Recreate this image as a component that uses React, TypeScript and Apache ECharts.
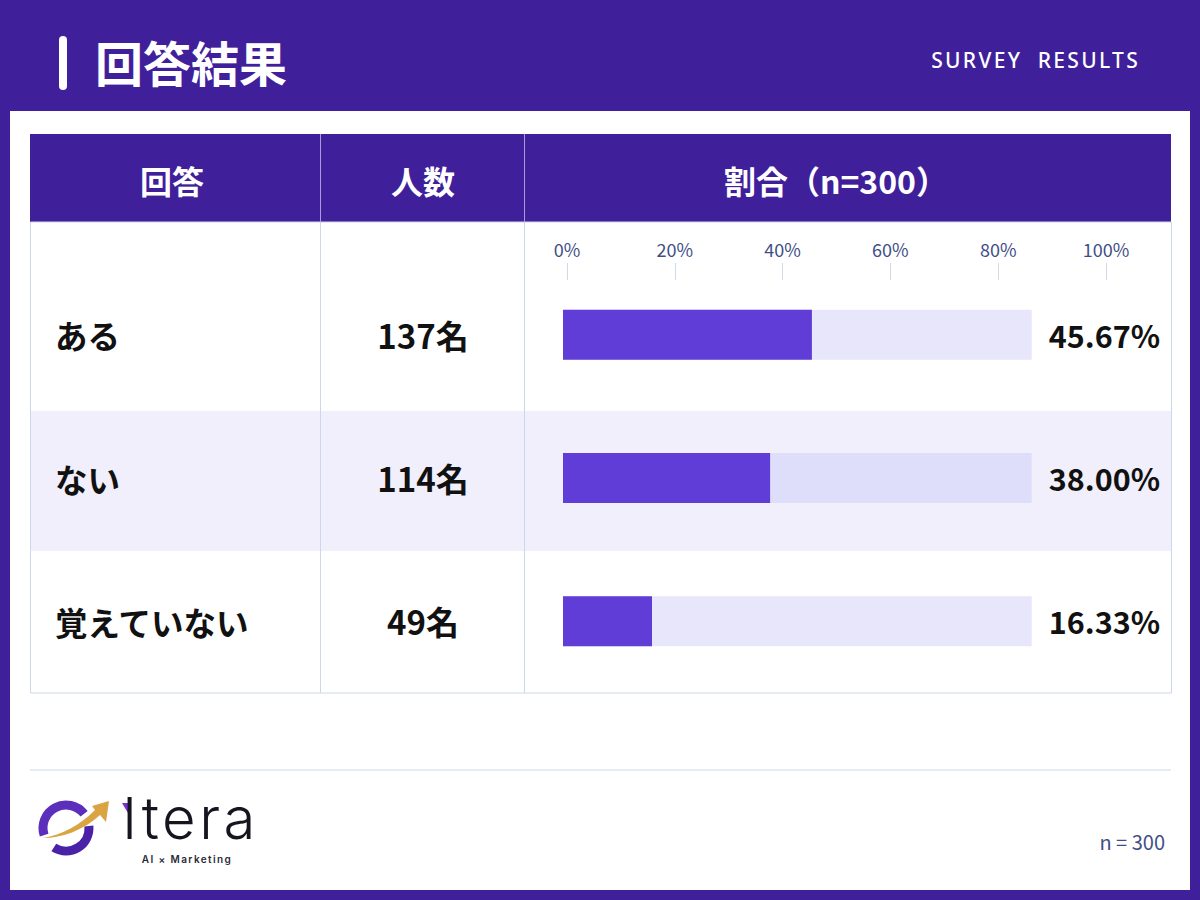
import { useEffect, useRef } from 'react';
import * as echarts from 'echarts';

// values
const answers = ['ある', 'ない', '覚えていない'];
const counts = ['137名', '114名', '49名'];
const percents = [45.67, 38.0, 16.33];
const trackEnds = [86, 86, 86];
const headers = ['回答', '人数', '割合（n=300）'];

const JP = '"Noto Sans CJK JP", "Noto Sans", sans-serif';
const PURPLE = '#3f209a';
const LINE = '#cdd6ea';
const trackColors = ['#e8e6fa', '#dedefa', '#e8e6fa'];

// zrender has no letter spacing, so it is set on the svg texts afterwards
const spacedTexts: Record<string, string> = {
    'SURVEY  RESULTS': '2.3px',
    Itera: '3.5px',
    'AI × Marketing': '1.4px',
};

echarts.graphic.registerShape(
    'logoArrow',
    echarts.graphic.extendPath(
        'M43 838 C62 835 80 825 95 810 L92 806 L109 801 L106 822 L100 815 C84 830 62 838 43 838 Z',
        {},
    ),
);

const deg = (d: number) => (d * Math.PI) / 180;

const headerText = (text: string, x: number) => ({
    type: 'text',
    style: { text, x, y: 180, fill: '#fff', font: `700 32px ${JP}`, align: 'center', verticalAlign: 'middle' },
});

const vLine = (x: number, y1: number, y2: number, stroke: string) => ({
    type: 'line',
    shape: { x1: x, y1, x2: x, y2 },
    style: { stroke, lineWidth: 1 },
});

const App = () => {
    const chartRef = useRef<HTMLDivElement>(null);

    useEffect(() => {
        document.body.style.margin = '0';
        if (chartRef.current) {
            const chart = echarts.init(chartRef.current, undefined, { renderer: 'svg' });

            chart.setOption({
                animation: false,
                backgroundColor: PURPLE,
                graphic: [
                    // page panel and table frame
                    { type: 'rect', shape: { x: 10, y: 111, width: 1180, height: 779 }, style: { fill: '#fff' } },
                    { type: 'rect', shape: { x: 30, y: 134, width: 1141, height: 88 }, style: { fill: PURPLE } },
                    { type: 'rect', shape: { x: 30, y: 411, width: 1141, height: 140 }, style: { fill: '#f1effb' } },
                    { type: 'rect', shape: { x: 30.5, y: 222, width: 1141, height: 471 }, style: { fill: 'none', stroke: LINE, lineWidth: 1 } },
                    vLine(320.5, 222, 693, LINE),
                    vLine(524.5, 222, 693, LINE),
                    vLine(320.5, 134, 222, '#a99ade'),
                    vLine(524.5, 134, 222, '#a99ade'),
                    { type: 'line', shape: { x1: 30, y1: 770, x2: 1171, y2: 770 }, style: { stroke: LINE, lineWidth: 1 } },

                    // title bar
                    { type: 'rect', shape: { x: 59, y: 36, width: 8, height: 54, r: 4 }, style: { fill: '#fff' } },
                    { type: 'text', style: { text: '回答結果', x: 95, y: 61, fill: '#fff', font: `700 48px ${JP}`, verticalAlign: 'middle' } },
                    { type: 'text', style: { text: 'SURVEY  RESULTS', x: 1140, y: 60, fill: '#fff', font: '500 21px "Noto Sans", sans-serif', align: 'right', verticalAlign: 'middle' } },

                    headerText(headers[0], 172),
                    headerText(headers[1], 423),
                    headerText(headers[2], 836),

                    // footer
                    { type: 'text', style: { text: 'n = 300', x: 1165, y: 841, fill: '#3f4f86', font: `400 20px ${JP}`, align: 'right', verticalAlign: 'middle' } },

                    // logo
                    { type: 'arc', shape: { cx: 66, cy: 828, r: 23, startAngle: deg(-38), endAngle: deg(162), clockwise: false }, style: { stroke: '#5b2fbc', lineWidth: 9, fill: 'none' } },
                    { type: 'arc', shape: { cx: 66, cy: 828, r: 23, startAngle: deg(-5), endAngle: deg(122), clockwise: true }, style: { stroke: '#4a22a8', lineWidth: 9, fill: 'none' } },
                    { type: 'logoArrow', style: { fill: '#d9a441' } },
                    { type: 'polygon', shape: { points: [[122, 803], [131, 803], [128, 813]] }, style: { fill: '#7a2fd0' } },
                    { type: 'text', style: { text: 'Itera', x: 122, y: 847, fill: '#15151f', font: '300 58px Inter, sans-serif', verticalAlign: 'bottom' } },
                    { type: 'text', style: { text: 'AI × Marketing', x: 187, y: 859, fill: '#2a2a38', font: '600 10px Inter, sans-serif', align: 'center', verticalAlign: 'middle' } },
                ],
                grid: [
                    // bars
                    { left: 563, width: 545, top: 263, height: 430 },
                    // percent ruler
                    { left: 567, width: 539, top: 280, height: 1 },
                ],
                xAxis: [
                    { gridIndex: 0, type: 'value', min: 0, max: 100, show: false },
                    {
                        gridIndex: 1,
                        type: 'value',
                        position: 'top',
                        min: 0,
                        max: 100,
                        interval: 20,
                        axisLine: { show: false },
                        axisTick: { show: true, length: 17, lineStyle: { color: '#d3d8e8', width: 1 } },
                        splitLine: { show: false },
                        axisLabel: { formatter: '{value}%', margin: 22, color: '#3f4f86', fontSize: 18, fontFamily: JP },
                    },
                ],
                yAxis: [
                    {
                        gridIndex: 0,
                        type: 'category',
                        inverse: true,
                        data: answers,
                        axisLine: { show: false },
                        axisTick: { show: false },
                        axisLabel: { margin: 508, align: 'left', color: '#111', fontSize: 32.5, fontWeight: 700, fontFamily: JP, padding: [0, 0, 3, 0] },
                    },
                    {
                        gridIndex: 0,
                        type: 'category',
                        position: 'left',
                        inverse: true,
                        data: counts,
                        axisLine: { show: false },
                        axisTick: { show: false },
                        axisLabel: { margin: 140, align: 'center', color: '#111', fontSize: 33, fontWeight: 700, fontFamily: JP },
                    },
                    {
                        gridIndex: 0,
                        type: 'category',
                        position: 'right',
                        inverse: true,
                        data: percents.map((p) => p.toFixed(2) + '%'),
                        axisLine: { show: false },
                        axisTick: { show: false },
                        axisLabel: { margin: 52, align: 'right', color: '#111', fontSize: 30.5, fontWeight: 700, fontFamily: JP },
                    },
                    { gridIndex: 1, type: 'category', data: [''], show: false },
                ],
                series: [
                    {
                        type: 'bar',
                        xAxisIndex: 0,
                        yAxisIndex: 0,
                        barWidth: 50,
                        barGap: '-100%',
                        data: trackEnds.map((value, i) => ({ value, itemStyle: { color: trackColors[i] } })),
                    },
                    {
                        type: 'bar',
                        xAxisIndex: 0,
                        yAxisIndex: 0,
                        barWidth: 50,
                        barGap: '-100%',
                        itemStyle: { color: '#5f3dd6' },
                        data: percents,
                    },
                ],
            });

            chartRef.current.querySelectorAll('text').forEach((t) => {
                const spacing = spacedTexts[t.textContent || ''];
                if (spacing) t.style.letterSpacing = spacing;
            });

            return () => chart.dispose();
        }
    }, []);

    return <div ref={chartRef} style={{ width: 1200, height: 900 }} />;
};

export default App;
